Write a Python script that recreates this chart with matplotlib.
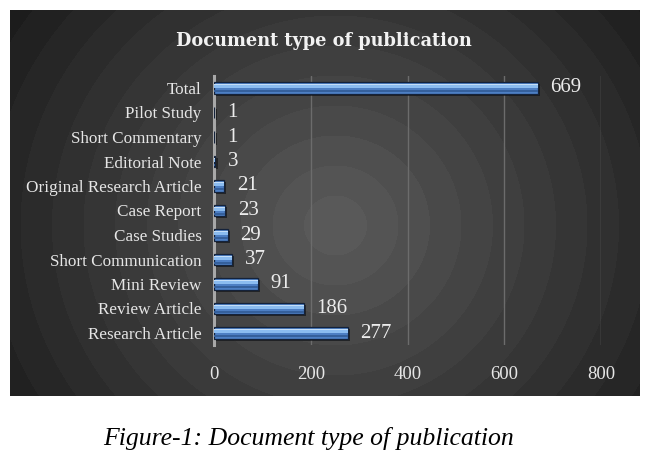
import numpy as np
import matplotlib
matplotlib.use("Agg")
import matplotlib.pyplot as plt
import matplotlib.patheffects as pe

categories = ["Research Article", "Review Article", "Mini Review", "Short Communication",
              "Case Studies", "Case Report", "Original Research Article", "Editorial Note",
              "Short Commentary", "Pilot Study", "Total"]
values = [277, 186, 91, 37, 29, 23, 21, 3, 1, 1, 669]
xticks = [0, 200, 400, 600, 800]
title = "Document type of publication"
caption = "Figure-1: Document type of publication"

W, H = 651, 467
fig = plt.figure(figsize=(W / 100, H / 100), dpi=100)
fig.patch.set_facecolor("white")
serif = ["Liberation Serif", "DejaVu Serif"]

# background panel with stepped radial gradient
px0, py0, px1, py1 = 10, 10, 640, 396
bg = fig.add_axes([px0 / W, 1 - py1 / H, (px1 - px0) / W, (py1 - py0) / H])
bg.set_axis_off()
nx, ny = px1 - px0, py1 - py0
xx, yy = np.meshgrid(np.arange(nx), np.arange(ny))
cx, cy = 335 - px0, 225 - py0
r = np.sqrt(((xx - cx) / 1.05) ** 2 + (yy - cy) ** 2)
rn = r / 390.0
levels = np.floor(rn * 13) / 13
g = 0.35 - 0.26 * np.clip(levels, 0, 1)
img = np.dstack([g, g, g])
bg.imshow(img, aspect="auto", extent=[0, 1, 0, 1], interpolation="nearest")
bg.set_xlim(0, 1)
bg.set_ylim(0, 1)

# main axes
ax_left, ax_right = 214, 601
y_top_cat, y_bot_cat = 88, 333
step = (y_bot_cat - y_top_cat) / 10
ax_top = y_top_cat - step / 2
ax_bot = y_bot_cat + step / 2
ax = fig.add_axes([ax_left / W, 1 - ax_bot / H, (ax_right - ax_left) / W, (ax_bot - ax_top) / H])
ax.patch.set_alpha(0)
ax.set_xlim(0, 800)
ax.set_ylim(-0.5, len(categories) - 0.5)

ypos = np.arange(len(categories))
bh = 0.46
bars = ax.barh(ypos, values, height=bh, color="#4d7fc4", edgecolor="#14223a", linewidth=0.9, zorder=3)
for b in bars:
    b.set_path_effects([pe.SimplePatchShadow(offset=(1.5, -1.5), shadow_rgbFace="#0e0e0e", alpha=0.6), pe.Normal()])
ax.barh(ypos + bh * 0.16, values, height=bh * 0.34, color="#8bbcf0", linewidth=0, zorder=4)
ax.barh(ypos + bh * 0.30, values, height=bh * 0.10, color="#c4def8", linewidth=0, zorder=4)
ax.barh(ypos - bh * 0.30, values, height=bh * 0.16, color="#35609c", linewidth=0, zorder=4)

for y, v in zip(ypos, values):
    ax.text(v + 26, y, str(v), va="center", ha="left", fontsize=15, color="#ececec",
            family=serif, zorder=5)

ax.set_xticks(xticks)
ax.set_xticklabels([str(t) for t in xticks], family=serif, fontsize=13.5, color="#e6e6e6")
ax.set_yticks(ypos)
ax.set_yticklabels(categories, family=serif, fontsize=12.3, color="#e6e6e6")
ax.tick_params(axis="both", length=0)
ax.tick_params(axis="x", pad=15)
ax.tick_params(axis="y", pad=9)
for xt in xticks[1:]:
    ax.axvline(xt, color="#6c6c6c", lw=1.0, zorder=1)
for s in ["top", "right", "bottom"]:
    ax.spines[s].set_visible(False)
ax.spines["left"].set_color("#a8a8a8")
ax.spines["left"].set_linewidth(2.2)

fig.text(324 / W, 1 - 40.5 / H, title, ha="center", va="center", fontsize=12.8, fontweight="bold",
         color="#f2f2f2", family=["DejaVu Serif"])
fig.text(309 / W, 1 - 438 / H, caption, ha="center", va="center", fontsize=18.5, style="italic",
         color="black", family=serif)

fig.savefig("out.png", dpi=100)
